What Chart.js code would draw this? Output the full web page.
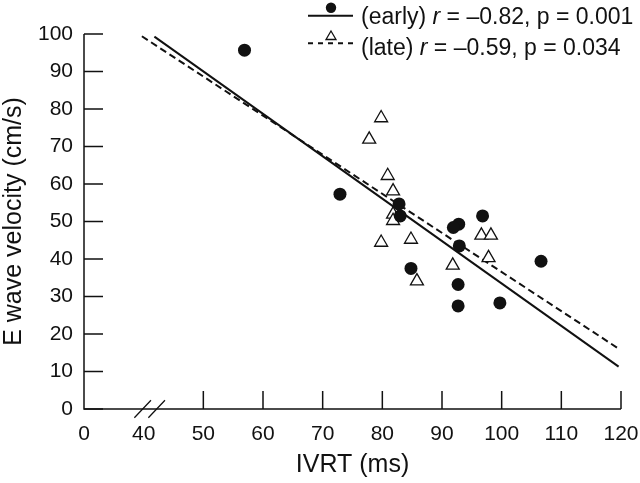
<!DOCTYPE html>
<html>
<head>
<meta charset="utf-8">
<script src="https://cdn.jsdelivr.net/npm/chart.js@4.4.1/dist/chart.umd.min.js"></script>
<style>
  html, body { margin: 0; padding: 0; background: #fff; }
  #wrap { position: relative; width: 640px; height: 483px; }
  #legend { position: absolute; left: 0; top: 0; width: 640px; height: 60px; pointer-events: none;
            font-family: "Liberation Sans", Arial, sans-serif; font-size: 23px; color: #111; }
  .lrow { position: absolute; left: 361px; white-space: nowrap; line-height: 26px; }
  svg.sym { position: absolute; left: 300px; top: 0; }
</style>
</head>
<body>
<div id="wrap">
  <canvas id="c" width="640" height="483"></canvas>
  <div id="legend">
    <svg class="sym" width="70" height="55" viewBox="0 0 70 55">
      <line x1="8" y1="15.7" x2="53" y2="15.7" stroke="#111" stroke-width="2"/>
      <circle cx="31" cy="7.7" r="5.2" fill="#111"/>
      <line x1="8" y1="43.3" x2="53" y2="43.3" stroke="#111" stroke-width="2" stroke-dasharray="5,5"/>
      <polygon points="31,31 36,39.5 26,39.5" fill="#fff" stroke="#111" stroke-width="1.3"/>
    </svg>
    <div class="lrow" style="top:3px">(early) <i>r</i> = –0.82, p = 0.001</div>
    <div class="lrow" style="top:34px">(late) <i>r</i> = –0.59, p = 0.034</div>
  </div>
</div>
<script>
// ---- data (IVRT in ms, E wave velocity in cm/s) ----
const xTickValues = [0, 40, 50, 60, 70, 80, 90, 100, 110, 120];
const yTickValues = [0, 10, 20, 30, 40, 50, 60, 70, 80, 90, 100];

const earlyIVRT = [56.9, 72.9, 82.8, 83.0, 92.8, 91.9, 96.8, 92.9, 84.8, 106.6, 92.7, 92.7, 99.7];
const earlyE    = [95.7, 57.3, 54.7, 51.5, 49.3, 48.4, 51.5, 43.5, 37.5, 39.4, 33.2, 27.5, 28.3];

const lateIVRT  = [79.8, 77.8, 80.9, 81.8, 81.8, 81.8, 79.8, 84.8, 85.8, 91.8, 96.6, 98.2, 97.8];
const lateE     = [77.6, 71.9, 62.2, 58.1, 51.9, 50.2, 44.4, 45.2, 34.1, 38.3, 46.3, 46.3, 40.3];

const earlyFitIVRT = [41.8, 119.6];
const earlyFitE    = [99.3, 11.3];
const lateFitIVRT  = [39.7, 119.4];
const lateFitE     = [99.4, 16.3];

// broken x axis: 0 then a break, 40..120 continuous (gap 0-40 shown as one tick step)
const BREAK_SHIFT = 30;
const tx = v => (v <= 0 ? 0 : v - BREAK_SHIFT);
const pts = (xs, ys) => xs.map((x, i) => ({ x: tx(x), y: ys[i] }));
const xTickPos = xTickValues.map(tx);

const INK = '#111';
const FONT = '"Liberation Sans", Arial, sans-serif';

const axesPlugin = {
  id: 'axesPlugin',
  afterDraw(chart) {
    const ctx = chart.ctx;
    const xs = chart.scales.x, ys = chart.scales.y;
    const x0 = xs.getPixelForValue(0), x1 = xs.getPixelForValue(tx(120));
    const y0 = ys.getPixelForValue(0), y1 = ys.getPixelForValue(100);
    ctx.save();
    ctx.strokeStyle = INK;
    ctx.lineWidth = 1.5;
    ctx.lineCap = 'butt';
    ctx.beginPath();
    ctx.moveTo(x0, y1); ctx.lineTo(x0, y0); ctx.lineTo(x1, y0);
    ctx.stroke();
    // y ticks (inward)
    ctx.beginPath();
    yTickValues.forEach(v => {
      const p = ys.getPixelForValue(v);
      ctx.moveTo(x0, p); ctx.lineTo(x0 + 19, p);
    });
    // x ticks (inward), skip 0 (axis) and 40 (break)
    xTickValues.forEach(v => {
      if (v < 50) return;
      const p = xs.getPixelForValue(tx(v));
      ctx.moveTo(p, y0); ctx.lineTo(p, y0 - 18);
    });
    ctx.stroke();
    // break marks
    const c1 = xs.getPixelForValue(tx(40)) - 1;
    const c2 = c1 + 14;
    ctx.lineWidth = 1.3;
    ctx.beginPath();
    [c1, c2].forEach(c => { ctx.moveTo(c - 8.3, y0 + 8.7); ctx.lineTo(c + 8.3, y0 - 8.7); });
    ctx.stroke();
    ctx.restore();
  }
};

new Chart(document.getElementById('c'), {
  type: 'scatter',
  data: {
    datasets: [
      { label: 'early', data: pts(earlyIVRT, earlyE), pointStyle: 'circle', pointRadius: 6.5,
        pointHoverRadius: 6.5, backgroundColor: INK, borderColor: INK, borderWidth: 0, clip: false },
      { label: 'late', data: pts(lateIVRT, lateE), pointStyle: 'triangle', pointRadius: 7.5,
        pointHoverRadius: 7.5, backgroundColor: '#fff', borderColor: INK, borderWidth: 1.3, clip: false },
      { label: 'early fit', data: pts(earlyFitIVRT, earlyFitE), showLine: true, pointRadius: 0,
        borderColor: INK, borderWidth: 2, fill: false, clip: false },
      { label: 'late fit', data: pts(lateFitIVRT, lateFitE), showLine: true, pointRadius: 0,
        borderColor: INK, borderWidth: 2, borderDash: [7, 4], fill: false, clip: false }
    ]
  },
  options: {
    responsive: false,
    animation: false,
    events: [],
    layout: { padding: { top: 34, right: 19, left: 0, bottom: 0 } },
    plugins: { legend: { display: false }, tooltip: { enabled: false } },
    scales: {
      x: {
        type: 'linear', min: 0, max: tx(120),
        afterBuildTicks: s => { s.ticks = xTickPos.map(v => ({ value: v })); },
        afterFit: s => { s.height = 74; s.paddingRight = 0; s.paddingLeft = 0; },
        grid: { display: false, drawTicks: false },
        border: { display: false },
        ticks: {
          padding: 13, color: INK, font: { family: FONT, size: 21 },
          callback: (v, i) => String(xTickValues[i])
        },
        title: { display: true, text: 'IVRT (ms)', color: INK,
                 font: { family: FONT, size: 25, lineHeight: 1.2 }, padding: { top: 0, bottom: 3 } }
      },
      y: {
        type: 'linear', min: 0, max: 100,
        afterBuildTicks: s => { s.ticks = yTickValues.map(v => ({ value: v })); },
        afterFit: s => { s.width = 84; },
        grid: { display: false, drawTicks: false },
        border: { display: false },
        ticks: { padding: 11, color: INK, font: { family: FONT, size: 21 } },
        title: { display: true, text: 'E wave velocity (cm/s)', color: INK,
                 font: { family: FONT, size: 25, lineHeight: 1.1 }, padding: { top: 0, bottom: 0 } }
      }
    }
  },
  plugins: [axesPlugin]
});
</script>
</body>
</html>
